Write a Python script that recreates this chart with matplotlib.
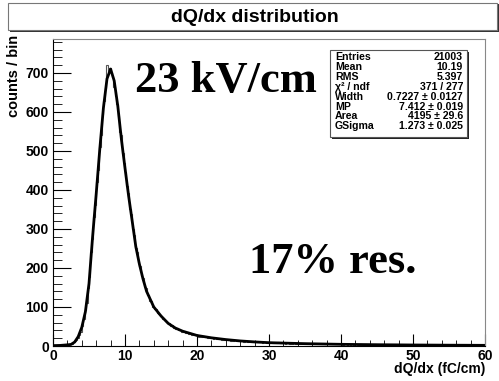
import numpy as np
import matplotlib.pyplot as plt
from matplotlib.patches import Rectangle

# histogram: 300 bins of 0.2 fC/cm from 0 to 60
bin_edges = np.linspace(0.0, 60.0, 301)
counts = [
    0, 1, 0, 2, 1,
    1, 2, 1, 3, 2,
    3, 4, 5, 6, 9,
    12, 15, 20, 28, 36,
    52, 68, 92, 110, 148,
    178, 240, 274, 330, 362,
    420, 452, 510, 540, 595,
    628, 662, 720, 706, 712,
    700, 690, 665, 640, 620,
    590, 548, 540, 495, 470,
    445, 410, 392, 352, 338,
    300, 285, 250, 240, 215,
    205, 180, 175, 150, 148,
    132, 130, 116, 115, 100,
    96, 94, 85, 82, 80,
    74, 70, 66, 65, 58,
    58, 52, 55, 47, 45,
    44, 46, 40, 42, 37,
    36, 38, 33, 35, 31, 34, 29, 30, 27, 28,
    27, 24, 26, 23, 25, 22, 24, 21, 23, 20,
    21, 19, 20, 18, 19, 17, 19, 16, 18, 15,
    17, 15, 16, 14, 15, 13, 15, 14, 12, 13,
    13, 12, 11, 13, 12, 10, 12, 11, 10, 11,
    10, 11, 9, 10, 9, 8, 10, 9, 8, 9,
    8, 9, 7, 8, 8, 7, 9, 7, 8, 7, 7, 6, 8, 7, 6, 7, 6, 7, 6, 5, 7, 6, 6, 5, 6,
    6, 5, 6, 5, 5, 6, 4, 5, 5, 6, 4, 5, 5, 4, 5, 4, 5, 4, 4, 5, 4, 4, 5, 4, 4,
    4, 3, 4, 4, 3, 4, 3, 4, 3, 3, 4, 3, 3, 4, 3, 3, 3, 4, 3, 3, 3, 2, 3, 4, 3,
    3, 3, 2, 3, 3, 2, 3, 3, 2, 3, 2, 3, 3, 2, 3, 2, 3, 2, 2, 3, 2, 3, 2, 2, 3,
    2, 3, 2, 2, 2, 3, 2, 2, 1, 2, 2, 3, 2, 2, 2, 1, 2, 2, 2, 2, 1, 2, 3, 2, 2,
    2, 2, 1, 2, 2, 1, 2, 2, 2, 1, 2, 1, 2, 2, 1, 2, 2, 1, 2, 1, 2, 2, 1, 1, 2,
]

# fitted curve
fit_x = [0, 1, 2, 2.5, 3, 3.5, 4, 4.5, 5, 5.5, 6, 6.5, 7, 7.5, 8, 8.5, 9, 9.5,
         10, 10.5, 11, 11.5, 12, 12.5, 13, 14, 15, 16, 17, 18, 20, 22, 24, 26,
         28, 30, 35, 40, 45, 50, 55, 60]
fit_y = [1, 1.5, 3, 4, 10, 24, 48, 88, 160, 280, 390, 505, 610, 685, 710, 680,
         615, 530, 456, 385, 320, 255, 210, 172, 140, 100, 77, 58, 46, 38, 27,
         21, 16.5, 13, 10.5, 8.5, 6, 4.3, 3.3, 2.6, 2.1, 1.7]

stat_names = ['Entries', 'Mean', 'RMS', 'χ² / ndf', 'Width', 'MP', 'Area', 'GSigma']
stat_values = ['21003', '10.19', '5.397', '371 / 277', '0.7227 ± 0.0127',
               '7.412 ± 0.019', '4195 ± 29.6', '1.273 ± 0.025']

plt.rcParams['font.family'] = ['Liberation Sans', 'DejaVu Sans']

W, H = 499, 381
fig = plt.figure(figsize=(W / 100, H / 100), dpi=100)


def fx(px):
    return px / W


def fy(py):
    return 1 - py / H


ax = fig.add_axes([fx(53), fy(346), fx(485) - fx(53), fy(39) - fy(346)])

ax.stairs(counts, bin_edges, color='#555555', lw=0.8)
ax.plot(fit_x, fit_y, color='black', lw=2.0)

ax.set_xlim(0, 60)
ax.set_ylim(0, 787)
ax.set_xticks(np.arange(0, 61, 10))
ax.set_xticks(np.arange(0, 61, 2), minor=True)
ax.set_yticks(np.arange(0, 701, 100))
ax.set_yticks(np.arange(0, 781, 20), minor=True)
ax.tick_params(which='both', direction='in', top=False, right=False, labelsize=10)
ax.tick_params(axis='x', which='major', length=9, pad=2)
ax.tick_params(axis='x', which='minor', length=4.5)
ax.tick_params(axis='y', which='major', length=13, pad=3)
ax.tick_params(axis='y', which='minor', length=6.5)
for lab in ax.get_xticklabels() + ax.get_yticklabels():
    lab.set_fontweight('bold')
for s in ['top', 'right']:
    ax.spines[s].set_color('#888888')
for s in ['left', 'bottom']:
    ax.spines[s].set_color('black')

fig.text(fx(485), fy(369), 'dQ/dx (fC/cm)', ha='right', va='center',
         fontsize=10, fontweight='bold')
fig.text(fx(14), fy(35), 'counts / bin', ha='center', va='top', rotation=90,
         fontsize=10.5, fontweight='bold')

# title box
fig.patches.append(Rectangle((fx(10), fy(32)), fx(499) - fx(10), fy(4) - fy(32),
                             transform=fig.transFigure, facecolor='#333333',
                             edgecolor='none'))
fig.patches.append(Rectangle((fx(8), fy(30)), fx(497) - fx(8), fy(3) - fy(30),
                             transform=fig.transFigure, facecolor='white',
                             edgecolor='#777777', lw=0.8))
fig.text(fx(255), fy(17), 'dQ/dx distribution', ha='center', va='center',
         fontsize=14, fontweight='bold')

# stats box
fig.patches.append(Rectangle((fx(332), fy(139)), fx(469) - fx(332), fy(52) - fy(139),
                             transform=fig.transFigure, facecolor='#222222',
                             edgecolor='none', zorder=5))
fig.patches.append(Rectangle((fx(330), fy(137)), fx(467) - fx(330), fy(50) - fy(137),
                             transform=fig.transFigure, facecolor='white',
                             edgecolor='#555555', lw=0.8, zorder=6))
for i, (n, v) in enumerate(zip(stat_names, stat_values)):
    y = fy(57.5 + i * 9.8)
    fig.text(fx(335), y, n, ha='left', va='center', fontsize=7.6,
             fontweight='bold', zorder=7)
    fig.text(fx(463), y, v, ha='right', va='center', fontsize=7.6,
             fontweight='bold', zorder=7)

# annotations
fig.text(fx(135), fy(92), '23 kV/cm', ha='left', va='baseline',
         fontsize=32, fontweight='bold', family='Liberation Serif')
fig.text(fx(249), fy(273), '17% res.', ha='left', va='baseline',
         fontsize=32, fontweight='bold', family='Liberation Serif')

fig.savefig('out.png', dpi=100)
